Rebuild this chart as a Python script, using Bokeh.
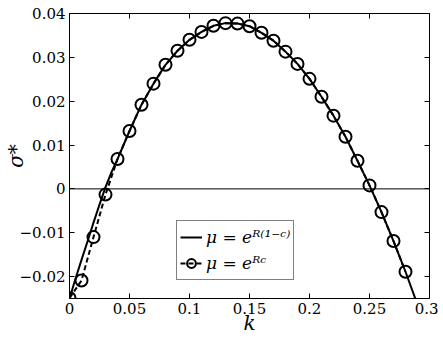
from bokeh.plotting import figure
from bokeh.models import Range1d, FixedTicker, LinearAxis, Span, Legend, LegendItem
from bokeh.embed import file_html
from bokeh.resources import INLINE

# simulation points (circles, dashed line)
k_markers = [0.00, 0.01, 0.02, 0.03, 0.04, 0.05, 0.06, 0.07, 0.08, 0.09,
             0.10, 0.11, 0.12, 0.13, 0.14, 0.15, 0.16, 0.17, 0.18, 0.19,
             0.20, 0.21, 0.22, 0.23, 0.24, 0.25, 0.26, 0.27, 0.28]
sigma_markers = [-0.0249, -0.0209, -0.0110, -0.0013, 0.0068, 0.0132, 0.0192, 0.0240, 0.0283, 0.0315,
                 0.0340, 0.0358, 0.0372, 0.0378, 0.0377, 0.0371, 0.0356, 0.0338, 0.0313, 0.0285,
                 0.0251, 0.0210, 0.0167, 0.0119, 0.0064, 0.0008, -0.0053, -0.0119, -0.0189]

# theoretical curve (solid line)
k_curve = [0.000, 0.005, 0.010, 0.015, 0.020, 0.025, 0.030, 0.035, 0.040, 0.05, 0.06, 0.07, 0.08, 0.09,
           0.10, 0.11, 0.12, 0.13, 0.14, 0.15, 0.16, 0.17, 0.18, 0.19,
           0.20, 0.21, 0.22, 0.23, 0.24, 0.25, 0.26, 0.27, 0.28, 0.29]
sigma_curve = [-0.0250, -0.0205, -0.0162, -0.0120, -0.0077, -0.0036, 0.0004, 0.0038, 0.0068, 0.0132, 0.0192, 0.0240, 0.0283, 0.0315,
               0.0340, 0.0358, 0.0372, 0.0378, 0.0377, 0.0371, 0.0356, 0.0338, 0.0313, 0.0285,
               0.0251, 0.0210, 0.0167, 0.0119, 0.0064, 0.0008, -0.0053, -0.0119, -0.0189, -0.0264]

x_ticks = [0, 0.05, 0.1, 0.15, 0.2, 0.25, 0.3]
x_tick_labels = ["0", "0.05", "0.1", "0.15", "0.2", "0.25", "0.3"]
y_ticks = [-0.02, -0.01, 0, 0.01, 0.02, 0.03, 0.04]
y_tick_labels = ["\u22120.02", "\u22120.01", "0", "0.01", "0.02", "0.03", "0.04"]
legend_labels = ["\u03bc = e\u1d3f\u207d\u00b9\u207b\u1d9c\u207e", "\u03bc = e\u1d3f\u1d9c"]

SERIF = "DejaVu Serif"

p = figure(frame_width=360, frame_height=285, output_backend="svg", toolbar_location=None,
           x_range=Range1d(0, 0.3), y_range=Range1d(-0.025, 0.04),
           min_border_left=67, min_border_top=13, min_border_right=9, min_border_bottom=42)
p.xgrid.visible = False
p.ygrid.visible = False
p.outline_line_color = None
p.background_fill_color = "white"

for ax, ticks, labels in ((p.xaxis[0], x_ticks, x_tick_labels), (p.yaxis[0], y_ticks, y_tick_labels)):
    ax.ticker = FixedTicker(ticks=ticks)
    ax.major_label_overrides = {t: l for t, l in zip(ticks, labels)}
    ax.major_label_text_font = SERIF
    ax.major_label_text_font_size = "15px"
    ax.major_label_text_color = "black"
    ax.major_tick_in = 5
    ax.major_tick_out = 0
    ax.minor_tick_line_color = None
    ax.axis_line_color = "black"
    ax.major_tick_line_color = "black"
    ax.major_label_standoff = 4
    ax.axis_label_text_font = SERIF
    ax.axis_label_text_font_style = "italic"
    ax.axis_label_text_font_size = "20px"
    ax.axis_label_text_color = "black"

p.xaxis.axis_label = "k"
p.xaxis.axis_label_standoff = -6
p.yaxis.axis_label = "\u03c3*"
p.yaxis.axis_label_standoff = -11

top = LinearAxis(ticker=FixedTicker(ticks=x_ticks), major_label_text_font_size="1px",
                 major_label_text_color=None, major_tick_in=5, major_tick_out=0,
                 minor_tick_line_color=None, axis_line_color="black", major_label_standoff=0)
right = LinearAxis(ticker=FixedTicker(ticks=y_ticks), major_label_text_font_size="1px",
                   major_label_text_color=None, major_tick_in=5, major_tick_out=0,
                   minor_tick_line_color=None, axis_line_color="black", major_label_standoff=0)
p.add_layout(top, "above")
p.add_layout(right, "right")

p.add_layout(Span(location=0, dimension="width", line_color="black", line_width=1))

solid = p.line(k_curve, sigma_curve, line_color="black", line_width=2)
dashed = p.line(k_markers, sigma_markers, line_color="black", line_width=2, line_dash="5 3")
circles = p.scatter(k_markers, sigma_markers, marker="circle", size=12,
                    line_color="black", line_width=2, fill_alpha=0)

legend = Legend(items=[LegendItem(label=legend_labels[0], renderers=[solid]),
                       LegendItem(label=legend_labels[1], renderers=[dashed, circles])],
                location=(107, 18), orientation="vertical",
                label_text_font=SERIF, label_text_font_style="italic",
                label_text_font_size="17px", label_text_color="black",
                glyph_width=22, glyph_height=26, label_height=26, label_standoff=4,
                spacing=0, padding=3, margin=0,
                border_line_color="black", border_line_width=1,
                background_fill_color="white", background_fill_alpha=1)
p.add_layout(legend, "center")

open("out.html", "w").write(file_html(p, INLINE))
